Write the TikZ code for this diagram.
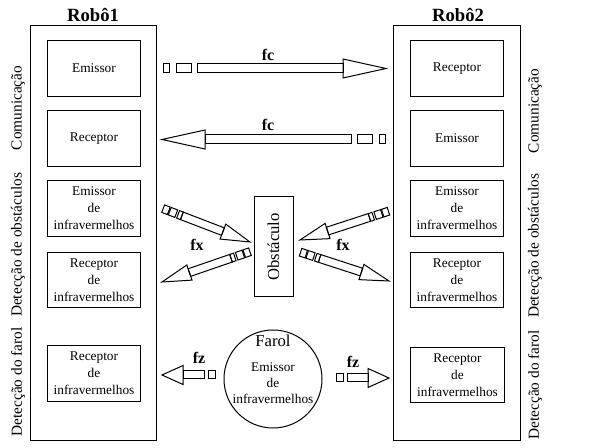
\documentclass[tikz,border=0pt]{standalone}
\usepackage{fontspec}
\setmainfont{Liberation Serif}
\begin{document}
\begin{tikzpicture}[x=0.75pt,y=-0.75pt,line width=0.75pt,
  frame/.style={draw,rectangle,inner sep=0pt},
  robot/.style={frame,minimum width=95pt,minimum height=311.25pt},
  inbox/.style={frame,minimum width=70pt,minimum height=41.5pt,
     font=\fontsize{10}{12.75}\selectfont,align=center},
  title/.style={font=\bfseries\fontsize{14}{16}\selectfont},
  side/.style={rotate=90,font=\fontsize{11.5}{13}\selectfont},
  lbl/.style={font=\bfseries\fontsize{12}{14}\selectfont},
  ftxt/.style={font=\fontsize{10}{12}\selectfont},
  fcarrow/.pic={
    \draw (0,0) -- (-43,-9.5) -- (-43,9.5) -- cycle;
    \draw (-43,-4.5) rectangle (-189,4.5);
    \draw (-195,-4.5) rectangle (-210,4.5);
    \draw (-217,-4.5) rectangle (-223,4.5);
  },
  fxarrow/.pic={
    \draw (0,0) -- (-29,-8) -- (-29,8) -- cycle;
    \draw (-29,-4) rectangle (-73,4);
    \draw (-73,-4) rectangle (-77,4);
    \draw (-79,-4) rectangle (-86,4);
    \draw (-87,-4) rectangle (-93,4);
  },
  fzarrow/.pic={
    \draw (0,0) -- (-21,-9.5) -- (-21,9.5) -- cycle;
    \draw (-21,-4) rectangle (-42,4);
    \draw (-46,-4) rectangle (-53,4);
  }]
\useasboundingbox (0,0) rectangle (593,448);

% robots
\node[robot] (r1) at (93.5,233.5) {};
\node[robot] (r2) at (457,233.5) {};
\node[title] (t1) at (93,15) {Robô1};
\node[title] (t2) at (458,15) {Robô2};

% robot 1 boxes
\node[inbox] (a1) at (94,68.5) {Emissor};
\node[inbox] (a2) at (94,138.5) {Receptor};
\node[inbox] (a3) at (94,208.5) {Emissor\\de\\infravermelhos};
\node[inbox] (a4) at (94,280) {Receptor\\de\\infravermelhos};
\node[inbox] (a5) at (94,373.5) {Receptor\\de\\infravermelhos};

% robot 2 boxes
\node[inbox] (b1) at (457,68.5) {Receptor};
\node[inbox] (b2) at (457,138.5) {Emissor};
\node[inbox] (b3) at (457,208.5) {Emissor\\de\\infravermelhos};
\node[inbox] (b4) at (457,280) {Receptor\\de\\infravermelhos};
\node[inbox] (b5) at (457.5,375) {Receptor\\de\\infravermelhos};

% side labels
\node[side] (s1) at (18,108) {Comunicação};
\node[side] (s2) at (18,245) {Detecção de obstáculos};
\node[side] (s3) at (18,382) {Detecção do farol};
\node[side] (s4) at (535,111) {Comunicação};
\node[side] (s5) at (535,246) {Detecção de obstáculos};
\node[side] (s6) at (535,385) {Detecção do farol};

% obstacle
\node[frame,minimum width=29.25pt,minimum height=75pt] (obs) at (273.5,247) {};
\node[rotate=90,font=\fontsize{12.5}{14}\selectfont] (obst) at (obs) {Obstáculo};

% lighthouse
\node[draw,circle,minimum size=73.5pt,inner sep=0pt] (farol) at (273,379) {};
\node[font=\fontsize{12.5}{14}\selectfont] (fa) at (273,341) {Farol};
\node[ftxt] (fb) at (273,367) {Emissor};
\node[ftxt] (fc0) at (273,383) {de};
\node[ftxt] (fd) at (273,399) {infravermelhos};

% communication arrows
\pic (c1) at (386,68.5) {fcarrow};
\pic[rotate=180] (c2) at (162,139.5) {fcarrow};
\node[lbl] (l1) at (268,55) {fc};
\node[lbl] (l2) at (268,125) {fc};

% obstacle arrows
\pic[rotate=-21] (x1) at (250,242) {fxarrow};
\pic[rotate=199] (x2) at (162,282) {fxarrow};
\pic[rotate=198] (x3) at (300,240) {fxarrow};
\pic[rotate=-18] (x4) at (389,281) {fxarrow};
\node[lbl] (l3) at (197,245) {fx};
\node[lbl] (l4) at (343,245) {fx};

% lighthouse arrows
\pic[rotate=180] (z1) at (162,375) {fzarrow};
\pic (z2) at (389,378) {fzarrow};
\node[lbl] (l5) at (199,358) {fz};
\node[lbl] (l6) at (353,362) {fz};
\end{tikzpicture}
\end{document}
